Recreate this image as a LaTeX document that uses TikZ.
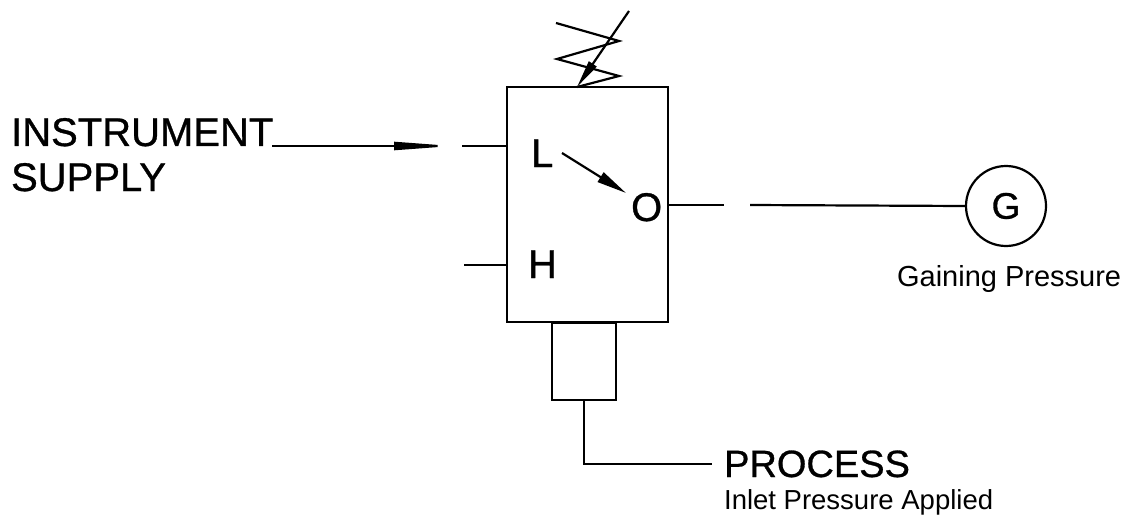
\documentclass[tikz,border=0pt]{standalone}
\usepackage{fontspec}
\setmainfont{Liberation Sans}
\newfontfamily\heavy[FakeBold=0.8]{Liberation Sans}
\usetikzlibrary{arrows.meta}
\begin{document}
\begin{tikzpicture}[x=1pt,y=-1pt,line width=2.2pt,
  lbl/.style={inner sep=0pt,anchor=base west},
  big/.style={font=\heavy\fontsize{40}{44}\selectfont},
  mid/.style={font=\fontsize{29}{32}\selectfont},
  body/.style={draw,rectangle,inner sep=0pt}]
\useasboundingbox (0,0) rectangle (1126,516);
% main body
\node[body,minimum width=161pt,minimum height=235pt] (box) at (587.5,204.5) {};
\node[body,minimum width=64pt,minimum height=77pt,anchor=north] (bulb) at (584,322) {};
% letters
\node[lbl,big] (L) at (530,167) {L};
\node[lbl,big] (O) at (630,221) {O};
\node[lbl,big] (H) at (527,278) {H};
% supply text
\node[lbl,big] (instr) at (10,146) {INSTRUMENT};
\node[lbl,big] (supply) at (10,191) {SUPPLY};
% supply line
\coordinate (s1) at (272,146);
\coordinate (s2) at (454,146);
\coordinate (s3) at (462,146);
\coordinate (s4) at (box.west |- s3);
\draw[-{Triangle[length=60pt,width=8pt]}] (s1) -- (s2);
\draw (s3) -- (s4);
% H port
\coordinate (h1) at (464,265);
\draw (h1) -- (box.west |- h1);
% internal arrow L -> O
\coordinate (a1) at (562,153);
\coordinate (a2) at (626,193);
\draw[-{Triangle[length=30pt,width=11pt]}] (a1) -- (a2);
% output line and gauge
\node[draw,circle,minimum size=80pt,inner sep=0pt,font=\heavy\fontsize{37}{40}\selectfont] (G) at (1006,206) {G};
\coordinate (o1) at (box.east |- 0,205);
\coordinate (o2) at (724,205);
\coordinate (o3) at (750,205);
\draw (o1) -- (o2);
\draw (o3) -- (G.west);
\node[lbl,mid] (gain) at (896,286) {Gaining Pressure};
% process line
\coordinate (p1) at (584,464);
\coordinate (p2) at (712,464);
\draw (bulb.south) -- (p1) -- (p2);
\node[lbl,font=\heavy\fontsize{38}{42}\selectfont] (proc) at (723,477) {PROCESS};
\node[lbl,font=\fontsize{27.5}{30}\selectfont] (inlet) at (723,509) {Inlet Pressure Applied};
% spring
\coordinate (k0) at (556,23);
\coordinate (k1) at (619,41);
\coordinate (k2) at (557,59);
\coordinate (k3) at (619,76);
\coordinate (k4) at (577,87);
\draw[line join=miter] (k0) -- (k1) -- (k2) -- (k3) -- (k4);
\coordinate (t0) at (629,11);
\draw[-{Triangle[length=28pt,width=9pt]}] (t0) -- (k4);
\end{tikzpicture}
\end{document}
